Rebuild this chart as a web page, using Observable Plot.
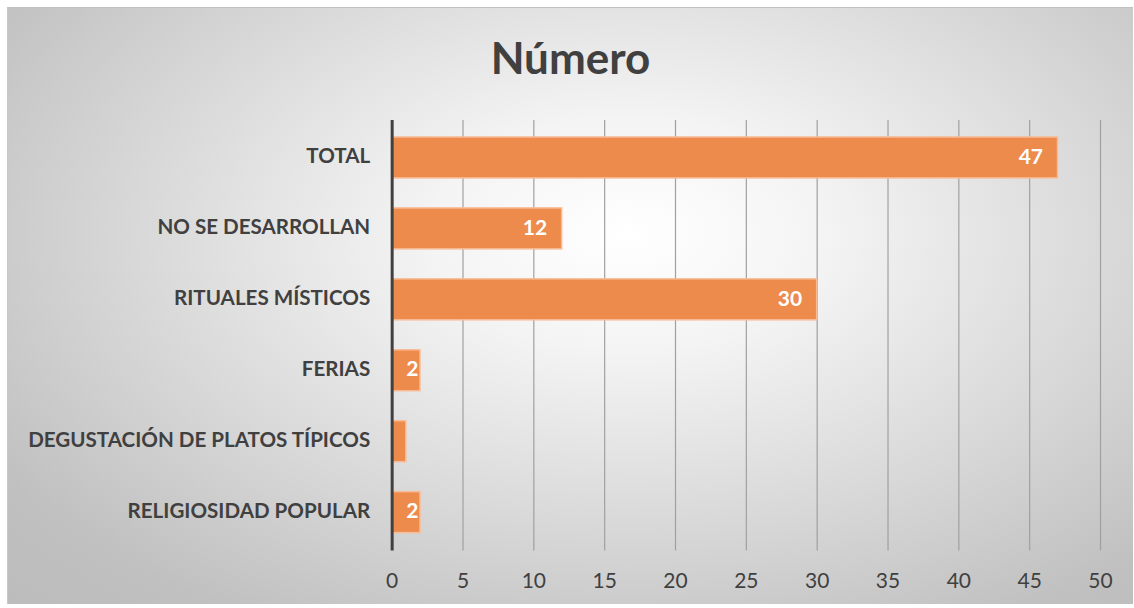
<!DOCTYPE html>
<html>
<head>
<meta charset="utf-8">
<script src="https://cdn.jsdelivr.net/npm/d3@7"></script>
<script src="https://cdn.jsdelivr.net/npm/@observablehq/plot@0.6"></script>
<style>
  html, body { margin: 0; padding: 0; background: #fff; }
  #chart {
    position: absolute; left: 7px; top: 7px; width: 1126px; height: 597px;
    box-sizing: border-box;
    border-top: 1px solid #c0c0c0; border-left: 1px solid #c8c8c8;
    background: radial-gradient(ellipse farthest-corner at 55% 38%, #ffffff 0%, #f4f4f4 22%, #d9d9d9 55%, #c0c0c0 85%, #bcbcbc 100%);
    font-family: Lato, sans-serif;
  }
  #title {
    height: 100px; box-sizing: border-box; padding-top: 23px;
    text-align: center; font-size: 44px; font-weight: bold; color: #404040;
    line-height: 52px;
  }
  #chart svg { display: block; background: transparent; }
</style>
</head>
<body>
<div id="chart">
  <div id="title">Número</div>
</div>
<script>
const categories = ["TOTAL", "NO SE DESARROLLAN", "RITUALES MÍSTICOS", "FERIAS", "DEGUSTACIÓN DE PLATOS TÍPICOS", "RELIGIOSIDAD POPULAR"];
const values = [47, 12, 30, 2, 1, 2];
const xTicks = [0, 5, 10, 15, 20, 25, 30, 35, 40, 45, 50];

const data = categories.map((c, i) => ({category: c, value: values[i]}));

const plot = Plot.plot({
  width: 1126,
  height: 497,
  marginTop: 12,
  marginBottom: 54,
  marginLeft: 384,
  marginRight: 33,
  style: {background: "transparent", fontFamily: "Lato, sans-serif", color: "#404040"},
  x: {domain: [0, 50], ticks: xTicks, label: null},
  y: {domain: categories, paddingInner: 0.42, paddingOuter: 0.21, label: null},
  marks: [
    Plot.gridX(xTicks.filter(d => d > 0), {stroke: "#a0a0a0", strokeOpacity: 1, strokeWidth: 1.2}),
    Plot.barX(data, {x: "value", y: "category", fill: "#ED8B4D", stroke: "#F7BC97", strokeWidth: 1.5}),
    Plot.ruleX([0], {stroke: "#404040", strokeWidth: 3}),
    Plot.text(data.filter(d => d.value >= 10), {x: "value", y: "category", text: d => String(d.value), textAnchor: "end", dx: -15, dy: -1, fill: "white", fontWeight: "bold", fontSize: 21}),
    Plot.text(data.filter(d => d.value >= 2 && d.value < 10), {x: "value", y: "category", text: d => String(d.value), textAnchor: "end", dx: -2, dy: -1, fill: "white", fontWeight: "bold", fontSize: 21}),
    Plot.axisX({ticks: xTicks, tickSize: 0, tickPadding: 22, fontSize: 21, fill: "#404040", label: null}),
    Plot.axisY({tickSize: 0, tickPadding: 22, dy: -1.5, fontSize: 20.6, fontWeight: "bold", fill: "#404040", label: null})
  ]
});
document.getElementById("chart").appendChild(plot);
</script>
</body>
</html>
